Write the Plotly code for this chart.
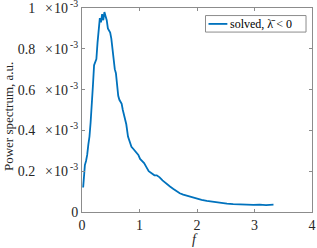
import plotly.graph_objects as go

freq = [0.02, 0.05, 0.07, 0.09, 0.11, 0.13, 0.15, 0.17, 0.19, 0.21,
        0.23, 0.25, 0.27, 0.29, 0.31, 0.33, 0.35, 0.37, 0.39, 0.41,
        0.43, 0.45, 0.47, 0.49, 0.51, 0.53, 0.55, 0.57, 0.59, 0.61,
        0.63, 0.65, 0.67, 0.69, 0.71, 0.73, 0.75, 0.77, 0.80, 0.83,
        0.86, 0.89, 0.92, 0.95, 0.98, 1.01, 1.04, 1.08, 1.12, 1.16,
        1.21, 1.26, 1.30, 1.35, 1.40, 1.47, 1.53, 1.59, 1.65, 1.70,
        1.76, 1.82, 1.90, 1.99, 2.08, 2.17, 2.28, 2.40, 2.52, 2.63,
        2.75, 2.86, 2.98, 3.09, 3.20, 3.33]
power_e3 = [0.12, 0.23, 0.25, 0.28, 0.33, 0.37, 0.44, 0.56, 0.62, 0.72,
            0.74, 0.75, 0.83, 0.89, 0.95, 0.93, 0.97, 0.94, 0.98, 0.96,
            0.94, 0.90, 0.89, 0.88, 0.85, 0.80, 0.72, 0.70, 0.68, 0.62,
            0.57, 0.55, 0.54, 0.53, 0.50, 0.48, 0.45, 0.43, 0.37, 0.34,
            0.32, 0.31, 0.30, 0.29, 0.28, 0.26, 0.25, 0.24, 0.22, 0.20,
            0.19, 0.18, 0.18, 0.17, 0.155, 0.137, 0.125, 0.113, 0.10, 0.092,
            0.085, 0.08, 0.072, 0.064, 0.06, 0.055, 0.05, 0.044, 0.041, 0.039,
            0.037, 0.036, 0.035, 0.036, 0.034, 0.036]
power = [p * 1e-3 for p in power_e3]

y_tickvals = [0, 0.2e-3, 0.4e-3, 0.6e-3, 0.8e-3, 1e-3]
y_ticktext = ["0",
              "0.2\u2002\u2009×\u200a10<sup>\u2009-3</sup>",
              "0.4\u2002\u2009×\u200a10<sup>\u2009-3</sup>",
              "0.6\u2002\u2009×\u200a10<sup>\u2009-3</sup>",
              "0.8\u2002\u2009×\u200a10<sup>\u2009-3</sup>",
              "1\u2002\u2009×\u200a10<sup>\u2009-3</sup>"]
x_tickvals = [0, 1, 2, 3, 4]
legend_label = "solved, λ\u0304 < 0"

font = "Liberation Serif"
gray = "#262626"

fig = go.Figure()
fig.add_trace(go.Scatter(x=freq, y=power, mode="lines",
                         line=dict(color="#0072BD", width=1.8),
                         name=legend_label, showlegend=False))

axis_common = dict(showgrid=False, zeroline=False, showline=True, linecolor="#8c8c8c",
                   linewidth=1, mirror="ticks", ticks="inside", ticklen=3,
                   tickcolor="#8c8c8c", automargin=False, ticklabeloverflow="allow",
                   tickfont=dict(family=font, size=14, color=gray))
fig.update_xaxes(range=[0, 4], tickvals=x_tickvals, **axis_common)
fig.update_yaxes(range=[0, 1e-3], tickvals=y_tickvals, ticktext=y_ticktext, **axis_common)

# axis titles
fig.add_annotation(xref="paper", yref="paper", x=0.49, y=-0.088, xanchor="center", yanchor="top",
                   text="<i>f</i>", showarrow=False, font=dict(family=font, size=14, color=gray))
fig.add_annotation(xref="paper", yref="paper", x=-0.322, y=0.47, xanchor="center", yanchor="middle",
                   text="Power spectrum, a.u.", textangle=-90, showarrow=False,
                   font=dict(family=font, size=13, color=gray))

# legend box (drawn as paper-space decoration)
fig.add_shape(type="rect", xref="paper", yref="paper", x0=0.537, x1=0.974, y0=0.882, y1=0.963,
              line=dict(color="#8c8c8c", width=1), fillcolor="white", layer="above")
fig.add_shape(type="line", xref="paper", yref="paper", x0=0.55, x1=0.632, y0=0.922, y1=0.922,
              line=dict(color="#0072BD", width=1.8), layer="above")
fig.add_annotation(xref="paper", yref="paper", x=0.635, y=0.924, xanchor="left", yanchor="middle",
                   text=legend_label, showarrow=False,
                   font=dict(family=font, size=12, color="black"))

fig.update_layout(width=317, height=248, margin=dict(l=82, r=5, t=8, b=36),
                  plot_bgcolor="white", paper_bgcolor="white", showlegend=False)
fig.write_html("out.html", config={"displayModeBar": False},
               post_script="document.body.style.margin='0';document.body.style.padding='0';")
